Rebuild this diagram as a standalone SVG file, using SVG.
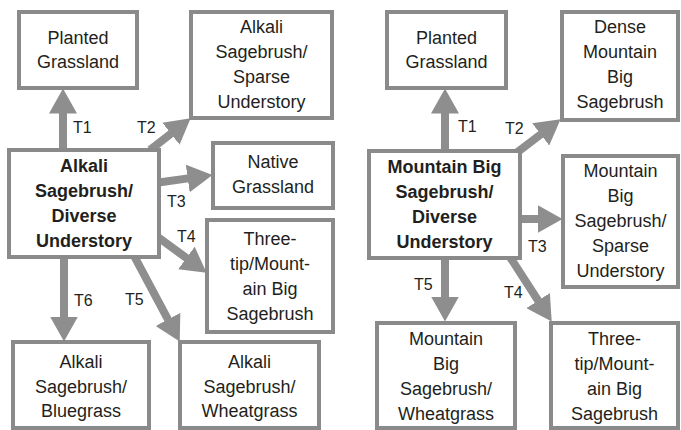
<svg xmlns="http://www.w3.org/2000/svg" width="681" height="430" viewBox="0 0 681 430">
<style>
.box{fill:#fff;stroke:#8a8a8a;stroke-width:4}
.t{font-family:"Liberation Sans",Arial,sans-serif;font-size:18px;fill:#231f20;text-anchor:middle}
.b{font-weight:bold}
.lbl{font-family:"Liberation Sans",Arial,sans-serif;font-size:16px;fill:#231f20}
.arr{stroke:#8e8e8e;stroke-width:8;fill:none;marker-end:url(#ah)}
</style>
<defs>
<marker id="ah" markerUnits="userSpaceOnUse" viewBox="0 -14 25 28" markerWidth="25" markerHeight="28" refX="0.5" refY="0" orient="auto">
<path d="M0,-14 L25,0 L0,14 Z" fill="#8e8e8e"/>
</marker>
</defs>
<rect width="681" height="430" fill="#fff"/>
<g id="connectors">
<line class="arr" x1="63" y1="150" x2="63" y2="113"/>
<line class="arr" x1="150" y1="150" x2="171.3" y2="133.4"/>
<line class="arr" x1="155" y1="183" x2="188.2" y2="178.4"/>
<line class="arr" x1="155" y1="235" x2="186.8" y2="258.3"/>
<line class="arr" x1="132" y1="252" x2="168.2" y2="319.9"/>
<line class="arr" x1="64" y1="255" x2="64" y2="317"/>
<line class="arr" x1="445" y1="155" x2="445" y2="113"/>
<line class="arr" x1="515" y1="154" x2="541.1" y2="134.1"/>
<line class="arr" x1="515" y1="219" x2="538" y2="219"/>
<line class="arr" x1="508" y1="254" x2="538.4" y2="301"/>
<line class="arr" x1="445" y1="255" x2="445" y2="297"/>
</g>
<g id="labels">
<text class="lbl" x="73" y="133">T1</text>
<text class="lbl" x="137" y="133">T2</text>
<text class="lbl" x="167" y="207">T3</text>
<text class="lbl" x="177" y="242">T4</text>
<text class="lbl" x="125" y="305">T5</text>
<text class="lbl" x="74" y="306">T6</text>
<text class="lbl" x="458" y="132">T1</text>
<text class="lbl" x="505" y="134">T2</text>
<text class="lbl" x="528" y="252">T3</text>
<text class="lbl" x="504" y="298">T4</text>
<text class="lbl" x="414" y="290">T5</text>
</g>
<g id="L-planted">
<rect class="box" x="19" y="12" width="118" height="76"/>
<text class="t" x="78" y="44">Planted</text>
<text class="t" x="78" y="68">Grassland</text>
</g>
<g id="L-sparse">
<rect class="box" x="191" y="12" width="141" height="106"/>
<text class="t" x="261.5" y="33">Alkali</text>
<text class="t" x="261.5" y="58">Sagebrush/</text>
<text class="t" x="261.5" y="83">Sparse</text>
<text class="t" x="261.5" y="108">Understory</text>
</g>
<g id="L-center">
<rect class="box" x="9" y="150" width="150" height="107"/>
<text class="t b" x="84" y="172">Alkali</text>
<text class="t b" x="84" y="197">Sagebrush/</text>
<text class="t b" x="84" y="222">Diverse</text>
<text class="t b" x="84" y="247">Understory</text>
</g>
<g id="L-native">
<rect class="box" x="213" y="143" width="120" height="65"/>
<text class="t" x="273" y="168">Native</text>
<text class="t" x="273" y="193">Grassland</text>
</g>
<g id="L-threetip">
<rect class="box" x="207" y="220" width="126" height="112"/>
<text class="t" x="270" y="245">Three-</text>
<text class="t" x="270" y="270">tip/Mount-</text>
<text class="t" x="270" y="295">ain Big</text>
<text class="t" x="270" y="320">Sagebrush</text>
</g>
<g id="L-bluegrass">
<rect class="box" x="13" y="342" width="136" height="86"/>
<text class="t" x="81" y="368">Alkali</text>
<text class="t" x="81" y="393">Sagebrush/</text>
<text class="t" x="81" y="417">Bluegrass</text>
</g>
<g id="L-wheatgrass">
<rect class="box" x="180" y="342" width="139" height="86"/>
<text class="t" x="249.5" y="368">Alkali</text>
<text class="t" x="249.5" y="393">Sagebrush/</text>
<text class="t" x="249.5" y="417">Wheatgrass</text>
</g>
<g id="R-planted">
<rect class="box" x="387" y="12" width="119" height="76"/>
<text class="t" x="446.5" y="44">Planted</text>
<text class="t" x="446.5" y="68">Grassland</text>
</g>
<g id="R-dense">
<rect class="box" x="562" y="12" width="116" height="108"/>
<text class="t" x="620" y="33">Dense</text>
<text class="t" x="620" y="58">Mountain</text>
<text class="t" x="620" y="83">Big</text>
<text class="t" x="620" y="108">Sagebrush</text>
</g>
<g id="R-center">
<rect class="box" x="369" y="151" width="151" height="107"/>
<text class="t b" x="444.5" y="173">Mountain Big</text>
<text class="t b" x="444.5" y="198">Sagebrush/</text>
<text class="t b" x="444.5" y="223">Diverse</text>
<text class="t b" x="444.5" y="248">Understory</text>
</g>
<g id="R-sparse">
<rect class="box" x="563" y="156" width="115" height="131"/>
<text class="t" x="620.5" y="177">Mountain</text>
<text class="t" x="620.5" y="202">Big</text>
<text class="t" x="620.5" y="227">Sagebrush/</text>
<text class="t" x="620.5" y="252">Sparse</text>
<text class="t" x="620.5" y="277">Understory</text>
</g>
<g id="R-wheatgrass">
<rect class="box" x="377" y="323" width="138" height="105"/>
<text class="t" x="446" y="345">Mountain</text>
<text class="t" x="446" y="370">Big</text>
<text class="t" x="446" y="395">Sagebrush/</text>
<text class="t" x="446" y="420">Wheatgrass</text>
</g>
<g id="R-threetip">
<rect class="box" x="551" y="323" width="127" height="105"/>
<text class="t" x="614.5" y="345">Three-</text>
<text class="t" x="614.5" y="370">tip/Mount-</text>
<text class="t" x="614.5" y="395">ain Big</text>
<text class="t" x="614.5" y="420">Sagebrush</text>
</g>
</svg>
